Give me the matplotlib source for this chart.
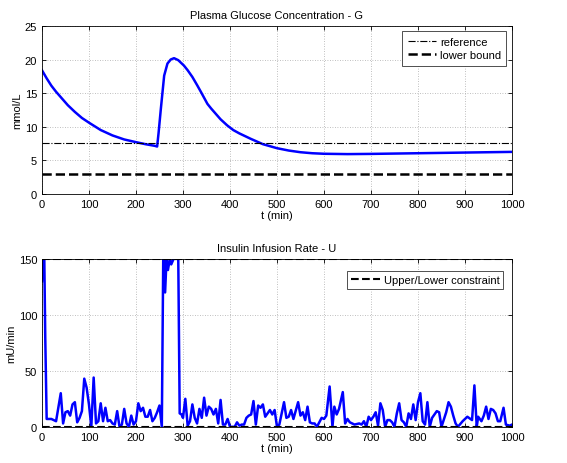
import matplotlib
matplotlib.use('Agg')
import matplotlib.pyplot as plt
import numpy as np

plt.rcParams['font.family'] = ['Liberation Sans', 'DejaVu Sans']
plt.rcParams['font.size'] = 8

# glucose G (mmol/L)
t_g = [0, 10, 20, 30, 40, 55, 70, 85, 100, 125, 150, 175, 200, 220, 240, 245,
       248, 253, 260, 267, 274, 281, 290, 302, 310, 320, 330, 338, 345, 352,
       360, 370, 380, 394, 407, 420, 444, 470, 500, 525, 550, 575, 600, 650,
       700, 750, 800, 850, 900, 950, 1000]
G = [18.4, 17.2, 16.1, 15.2, 14.4, 13.2, 12.2, 11.3, 10.6, 9.5, 8.7, 8.1, 7.7, 7.4, 7.15, 7.05,
     9.0, 12.7, 17.6, 19.4, 20.0, 20.2, 19.9, 19.1, 18.4, 17.4, 16.2, 15.2, 14.3, 13.4,
     12.7, 11.9, 11.1, 10.2, 9.5, 9.0, 8.2, 7.4, 6.8, 6.45, 6.2, 6.05, 5.97, 5.92,
     5.95, 6.0, 6.05, 6.1, 6.15, 6.2, 6.25]
G_ref = 7.5
G_low = 3.0

# insulin U (mU/min)
t_u = [0, 2, 5, 7, 10, 20, 30, 40, 45, 50, 55, 60, 65, 70, 75, 80, 85,
       90, 95, 100, 105, 110, 115, 120, 125, 130, 135, 140, 145, 150, 155,
       160, 165, 170, 175, 180, 185, 190, 195, 200, 205, 210, 215, 220, 225,
       230, 235, 240, 245, 250, 255, 258, 262, 265, 268, 272, 275, 280, 285,
       290, 293, 297, 300, 305, 310, 315, 320, 325, 330, 335, 340, 345, 350,
       355, 360, 365, 370, 375, 380, 385, 390, 395, 400, 410, 415, 420, 425,
       430, 435, 440, 445, 450, 455, 460, 465, 470, 475, 480, 485, 490, 495,
       500, 505, 515, 520, 525, 530, 535, 545, 550, 555, 560, 565, 570, 575,
       580, 585, 590, 595, 600, 605, 612, 618, 622, 627, 632, 640, 645, 650,
       655, 665, 675, 680, 685, 690, 695, 700, 705, 710, 715, 720, 725, 730,
       735, 740, 745, 750, 755, 760, 765, 770, 775, 780, 785, 790, 795, 800,
       805, 810, 815, 820, 825, 830, 840, 845, 850, 860, 865, 870, 875, 880,
       885, 895, 905, 915, 920, 925, 928, 935, 940, 945, 950, 955, 960, 965,
       970, 975, 982, 987, 995, 1000]
U = [130, 150, 150, 80, 7, 7, 5, 30, 3, 13, 14, 10, 20, 22, 4, 8, 14,
     43, 35, 20, 0, 44, 3, 5, 21, 5, 17, 5, 6, 3, 2,
     14, 0, 2, 16, 3, 0, 10, 2, 5, 21, 14, 17, 9, 9,
     15, 5, 8, 13, 19, 0, 150, 120, 150, 140, 150, 145, 150, 150,
     150, 12, 11, 8, 25, 1, 5, 20, 8, 3, 16, 8, 26, 10,
     18, 16, 11, 16, 3, 24, 2, 2, 7, 0, 0, 4, 1, 2,
     2, 8, 10, 11, 23, 2, 19, 17, 20, 9, 12, 15, 11, 15,
     0, 2, 22, 8, 9, 15, 7, 22, 10, 13, 6, 18, 4, 3,
     3, 0, 4, 8, 7, 10, 36, 0, 18, 11, 16, 31, 3, 7,
     4, 2, 3, 2, 5, 0, 9, 6, 9, 13, 1, 21, 15, 0,
     6, 6, 4, 0, 12, 21, 6, 4, 0, 12, 7, 20, 6, 22,
     30, 5, 2, 22, 0, 8, 14, 13, 0, 13, 22, 18, 10, 3,
     0, 5, 9, 6, 37, 0, 9, 5, 10, 18, 7, 16, 15, 12,
     5, 5, 17, 2, 1, 2]
U_max = 150
U_min = 0


def matlab_style(ax):
    ax.grid(True, linestyle=(0, (1, 2)), color='#aaaaaa', linewidth=0.6)
    ax.tick_params(direction='in', top=True, right=True, length=3, width=0.6)
    for s in ax.spines.values():
        s.set_linewidth(0.6)
    ax.set_xlim(0, 1000)
    ax.set_xticks(np.arange(0, 1001, 100))


fig = plt.figure(figsize=(5.67, 4.64), dpi=100)
ax1 = fig.add_axes([0.074, 0.580, 0.829, 0.362])
ax2 = fig.add_axes([0.074, 0.078, 0.829, 0.362])

# top panel
ax1.plot(t_g, G, color='#0000ff', lw=1.8)
ax1.axhline(G_ref, color='k', ls='-.', lw=0.8, label='reference')
ax1.axhline(G_low, color='k', ls='--', lw=1.8, label='lower bound')
matlab_style(ax1)
ax1.set_ylim(0, 25)
ax1.set_yticks(np.arange(0, 26, 5))
ax1.set_title('Plasma Glucose Concentration - G', fontsize=8, pad=6)
ax1.set_xlabel('t (min)', labelpad=1)
ax1.set_ylabel('mmol/L', labelpad=2)
leg1 = ax1.legend(loc='upper right', fancybox=False, edgecolor='#333333',
                  framealpha=1, handlelength=2.6, borderpad=0.5,
                  labelspacing=0.3, handletextpad=0.3)
leg1.get_frame().set_linewidth(0.6)

# bottom panel
ax2.plot(t_u, U, color='#0000ff', lw=1.8)
ax2.axhline(U_max, color='k', ls='--', lw=1.5, label='Upper/Lower constraint')
ax2.axhline(U_min, color='k', ls='--', lw=1.5)
matlab_style(ax2)
ax2.set_ylim(0, 150)
ax2.set_yticks(np.arange(0, 151, 50))
ax2.set_title('Insulin Infusion Rate - U', fontsize=8, pad=6)
ax2.set_xlabel('t (min)', labelpad=1)
ax2.set_ylabel('mU/min', labelpad=2)
leg2 = ax2.legend(loc='upper right', fancybox=False, edgecolor='#333333',
                  framealpha=1, handlelength=2.6, borderpad=0.35,
                  handletextpad=0.3, bbox_to_anchor=(0.993, 0.96))
leg2.get_frame().set_linewidth(0.6)

fig.savefig('out.png', dpi=100)
